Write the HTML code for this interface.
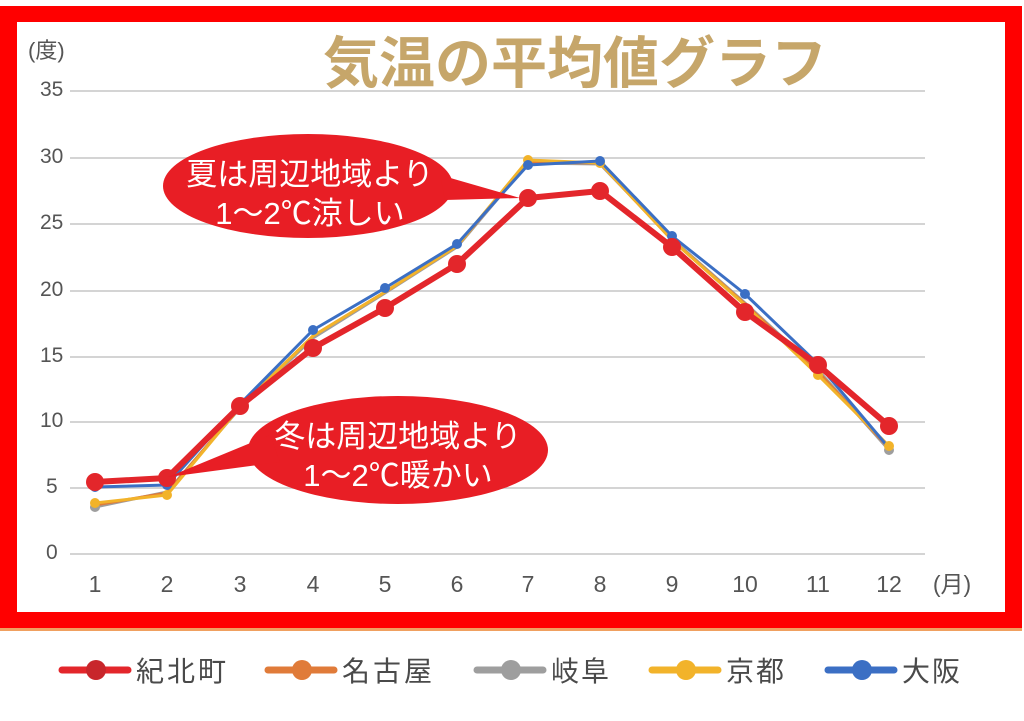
<!DOCTYPE html>
<html><head><meta charset="utf-8"><style>
html,body{margin:0;padding:0;background:#fff;}
svg{display:block;font-family:"Liberation Sans","Noto Sans CJK JP",sans-serif;}
</style></head><body>
<svg width="1024" height="721" viewBox="0 0 1024 721" xmlns="http://www.w3.org/2000/svg">
<rect x="0" y="0" width="1024" height="721" fill="#fff"/>
<rect x="0" y="6" width="1022" height="624" fill="#f00"/>
<rect x="17" y="22" width="988" height="590" fill="#fff"/>
<rect x="0" y="628" width="1022" height="3" fill="#f0a060"/>
<g stroke="#d4d4d4" stroke-width="2">
<line x1="70" y1="91" x2="925" y2="91"/><line x1="70" y1="158" x2="925" y2="158"/>
<line x1="70" y1="224" x2="925" y2="224"/><line x1="70" y1="291" x2="925" y2="291"/>
<line x1="70" y1="357" x2="925" y2="357"/><line x1="70" y1="422" x2="925" y2="422"/>
<line x1="70" y1="488" x2="925" y2="488"/><line x1="70" y1="554" x2="925" y2="554"/>
</g>
<g fill="#555" font-size="21">
<text x="28" y="58" font-size="22">(度)</text>
<text x="40" y="96">35</text><text x="40" y="163">30</text><text x="40" y="229">25</text>
<text x="40" y="296">20</text><text x="40" y="362">15</text><text x="40" y="427">10</text>
<text x="46" y="493">5</text><text x="46" y="559">0</text>
</g>
<g fill="#555" font-size="23" text-anchor="middle">
<text x="95" y="592">1</text><text x="167" y="592">2</text><text x="240" y="592">3</text>
<text x="313" y="592">4</text><text x="385" y="592">5</text><text x="457" y="592">6</text>
<text x="528" y="592">7</text><text x="600" y="592">8</text><text x="672" y="592">9</text>
<text x="745" y="592">10</text><text x="818" y="592">11</text><text x="889" y="592">12</text>
<text x="952" y="592">(月)</text>
</g>
<text x="575" y="83" text-anchor="middle" font-size="56" font-weight="bold" fill="#c6a66a">気温の平均値グラフ</text>
<g fill="none" stroke-width="3" stroke-linejoin="round">
<polyline stroke="#9e9e9e" points="95,507 167,492 240,408 313,338 385,293 457,247 528,163 600,164 672,239 745,303 818,370 889,450"/>
<polyline stroke="#e07b39" points="95,505 167,493 240,407 313,336 385,292 457,246 528,162 600,163 672,240 745,304 818,372 889,448"/>
<polyline stroke="#f2b32a" points="95,503 167,495 240,407 313,336 385,292 457,246 528,160 600,163 672,240 745,305 818,375 889,446"/>
<polyline stroke="#3b6fc4" points="95,487 167,485 240,404 313,330 385,288 457,244 528,165 600,161 672,236 745,294 818,364 889,448"/>
</g>
<g fill="#9e9e9e"><circle cx="95" cy="507" r="5"/><circle cx="889" cy="450" r="5"/></g>
<g fill="#f2b32a"><circle cx="95" cy="503" r="5"/><circle cx="167" cy="495" r="5"/><circle cx="528" cy="160" r="5"/><circle cx="600" cy="163" r="5"/><circle cx="818" cy="375" r="5"/><circle cx="889" cy="446" r="5"/></g>
<g fill="#3b6fc4"><circle cx="95" cy="487" r="5"/><circle cx="167" cy="485" r="5"/><circle cx="240" cy="404" r="5"/><circle cx="313" cy="330" r="5"/><circle cx="385" cy="288" r="5"/><circle cx="457" cy="244" r="5"/><circle cx="528" cy="165" r="5"/><circle cx="600" cy="161" r="5"/><circle cx="672" cy="236" r="5"/><circle cx="745" cy="294" r="5"/><circle cx="818" cy="364" r="5"/></g>
<polyline fill="none" stroke="#e3262b" stroke-width="6" stroke-linejoin="round" points="95,482 167,478 240,406 313,348 385,308 457,264 528,198 600,191 672,247 745,312 818,365 889,426"/>
<g fill="#e3262b"><circle cx="95" cy="482" r="9"/><circle cx="167" cy="478" r="9"/><circle cx="240" cy="406" r="9"/><circle cx="313" cy="348" r="9"/><circle cx="385" cy="308" r="9"/><circle cx="457" cy="264" r="9"/><circle cx="528" cy="198" r="9"/><circle cx="600" cy="191" r="9"/><circle cx="672" cy="247" r="9"/><circle cx="745" cy="312" r="9"/><circle cx="818" cy="365" r="9"/><circle cx="889" cy="426" r="9"/></g>
<g fill="#e81e25">
<ellipse cx="308" cy="186" rx="145" ry="52"/>
<polygon points="440,175 520,198 445,200"/>
<ellipse cx="398" cy="450" rx="150" ry="54"/>
<polygon points="270,435 168,477 280,462"/>
</g>
<g fill="#fff" font-size="31" text-anchor="middle">
<text x="310" y="185">夏は周辺地域より</text>
<text x="310" y="224">1～2℃涼しい</text>
<text x="398" y="447">冬は周辺地域より</text>
<text x="398" y="486">1～2℃暖かい</text>
</g>
<g stroke-width="7" stroke-linecap="round">
<line x1="62" y1="670" x2="128" y2="670" stroke="#e3262b"/>
<line x1="268" y1="670" x2="334" y2="670" stroke="#e07b39"/>
<line x1="477" y1="670" x2="543" y2="670" stroke="#9e9e9e"/>
<line x1="652" y1="670" x2="718" y2="670" stroke="#f2b32a"/>
<line x1="828" y1="670" x2="894" y2="670" stroke="#3b6fc4"/>
</g>
<circle cx="96" cy="670" r="10" fill="#c8262b"/>
<circle cx="302" cy="670" r="10" fill="#e07b39"/>
<circle cx="511" cy="670" r="10" fill="#9e9e9e"/>
<circle cx="686" cy="670" r="10" fill="#f2b32a"/>
<circle cx="862" cy="670" r="10" fill="#3b6fc4"/>
<g fill="#4a4a4a" font-size="28">
<text x="136" y="681" textLength="90">紀北町</text>
<text x="342" y="681" textLength="90">名古屋</text>
<text x="551" y="681" textLength="58">岐阜</text>
<text x="726" y="681" textLength="58">京都</text>
<text x="902" y="681" textLength="58">大阪</text>
</g>
</svg>
</body></html>
